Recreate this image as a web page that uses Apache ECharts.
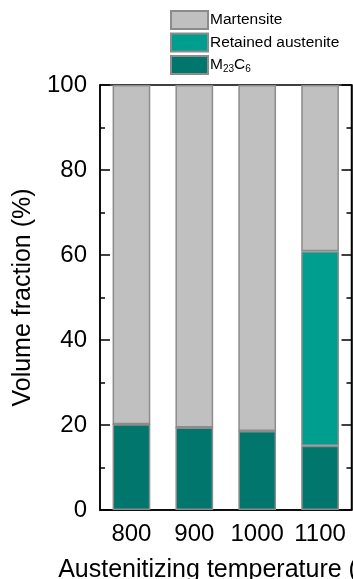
<!DOCTYPE html>
<html>
<head>
<meta charset="utf-8">
<script src="https://cdn.jsdelivr.net/npm/echarts@6/dist/echarts.min.js"></script>
<style>html,body{margin:0;padding:0;background:#fff}#c{width:353px;height:579px}</style>
</head>
<body>
<div id="c"></div>
<script>
const categories = ['800', '900', '1000', '1100'];
const m23c6 = [20.2, 19.4, 18.6, 15.1];
const retainedAustenite = [0, 0, 0, 45.8];
const martensite = [79.8, 80.6, 81.4, 39.1];
const yTicks = [0, 20, 40, 60, 80, 100];

const FONT = '"Liberation Sans", Arial, sans-serif';
const chart = echarts.init(document.getElementById('c'), null, {renderer: 'canvas'});
const border = {borderColor: '#8c8c8c', borderWidth: 1.5};

chart.setOption({
  animation: false,
  backgroundColor: '#fff',
  textStyle: {fontFamily: FONT},
  grid: {left: 100, right: 1.5, top: 85, bottom: 69, show: true, borderColor: '#000', borderWidth: 1.5,
    backgroundColor: 'transparent', containLabel: false, outerBoundsMode: 'none'},
  legend: {
    orient: 'vertical', left: 165, top: 5, icon: 'rect',
    itemWidth: 37, itemHeight: 18, itemGap: 2.5,
    data: ['Martensite', 'Retained austenite', 'M23C6'],
    textStyle: {fontFamily: FONT, fontSize: 15.5, color: '#000', padding: [0, 0, 0, -3],
      rich: {
        n: {fontFamily: FONT, fontSize: 15.5, color: '#000', lineHeight: 18},
        s: {fontFamily: FONT, fontSize: 10, color: '#000', lineHeight: 18, verticalAlign: 'bottom', padding: [7, 0, 0, 0]}
      }},
    formatter: function (name) {
      if (name === 'M23C6') return '{n|M}{s|23}{n|C}{s|6}';
      return name;
    }
  },
  xAxis: {
    type: 'category', data: categories,
    axisLine: {lineStyle: {color: '#000', width: 1.5}},
    axisTick: {show: false},
    axisLabel: {fontSize: 24, color: '#000', margin: 12, fontFamily: FONT, interval: 0, hideOverlap: false},
    name: 'Austenitizing temperature (°C)', nameLocation: 'middle', nameGap: 48,
    nameTextStyle: {fontSize: 25, color: '#000', fontFamily: FONT}
  },
  yAxis: [{
    type: 'value', min: yTicks[0], max: yTicks[yTicks.length - 1], interval: 20,
    axisLine: {show: true, lineStyle: {color: '#000', width: 1.5}},
    axisTick: {show: true, inside: true, length: 10, lineStyle: {color: '#000', width: 1.5}},
    minorTick: {show: true, splitNumber: 2, length: 5, lineStyle: {color: '#000', width: 1.5}},
    splitLine: {show: false},
    axisLabel: {fontSize: 24, color: '#000', margin: 13, fontFamily: FONT},
    name: 'Volume fraction (%)', nameLocation: 'middle', nameGap: 63,
    nameTextStyle: {fontSize: 25, color: '#000', fontFamily: FONT}
  }, {
    type: 'value', position: 'right', min: yTicks[0], max: yTicks[yTicks.length - 1], interval: 20,
    axisLine: {show: true, lineStyle: {color: '#000', width: 1.5}},
    axisTick: {show: true, inside: true, length: 10, lineStyle: {color: '#000', width: 1.5}},
    minorTick: {show: true, splitNumber: 2, length: 5, lineStyle: {color: '#000', width: 1.5}},
    splitLine: {show: false},
    axisLabel: {show: false}
  }],
  series: [
    {name: 'M23C6', type: 'bar', stack: 'v', data: m23c6, barWidth: '60%',
      itemStyle: Object.assign({color: '#00766c'}, border)},
    {name: 'Retained austenite', type: 'bar', stack: 'v', data: retainedAustenite, barWidth: '60%',
      itemStyle: Object.assign({color: '#009e8f'}, border)},
    {name: 'Martensite', type: 'bar', stack: 'v', data: martensite, barWidth: '60%',
      itemStyle: Object.assign({color: '#c0c0c0'}, border)}
  ]
});
</script>
</body>
</html>
